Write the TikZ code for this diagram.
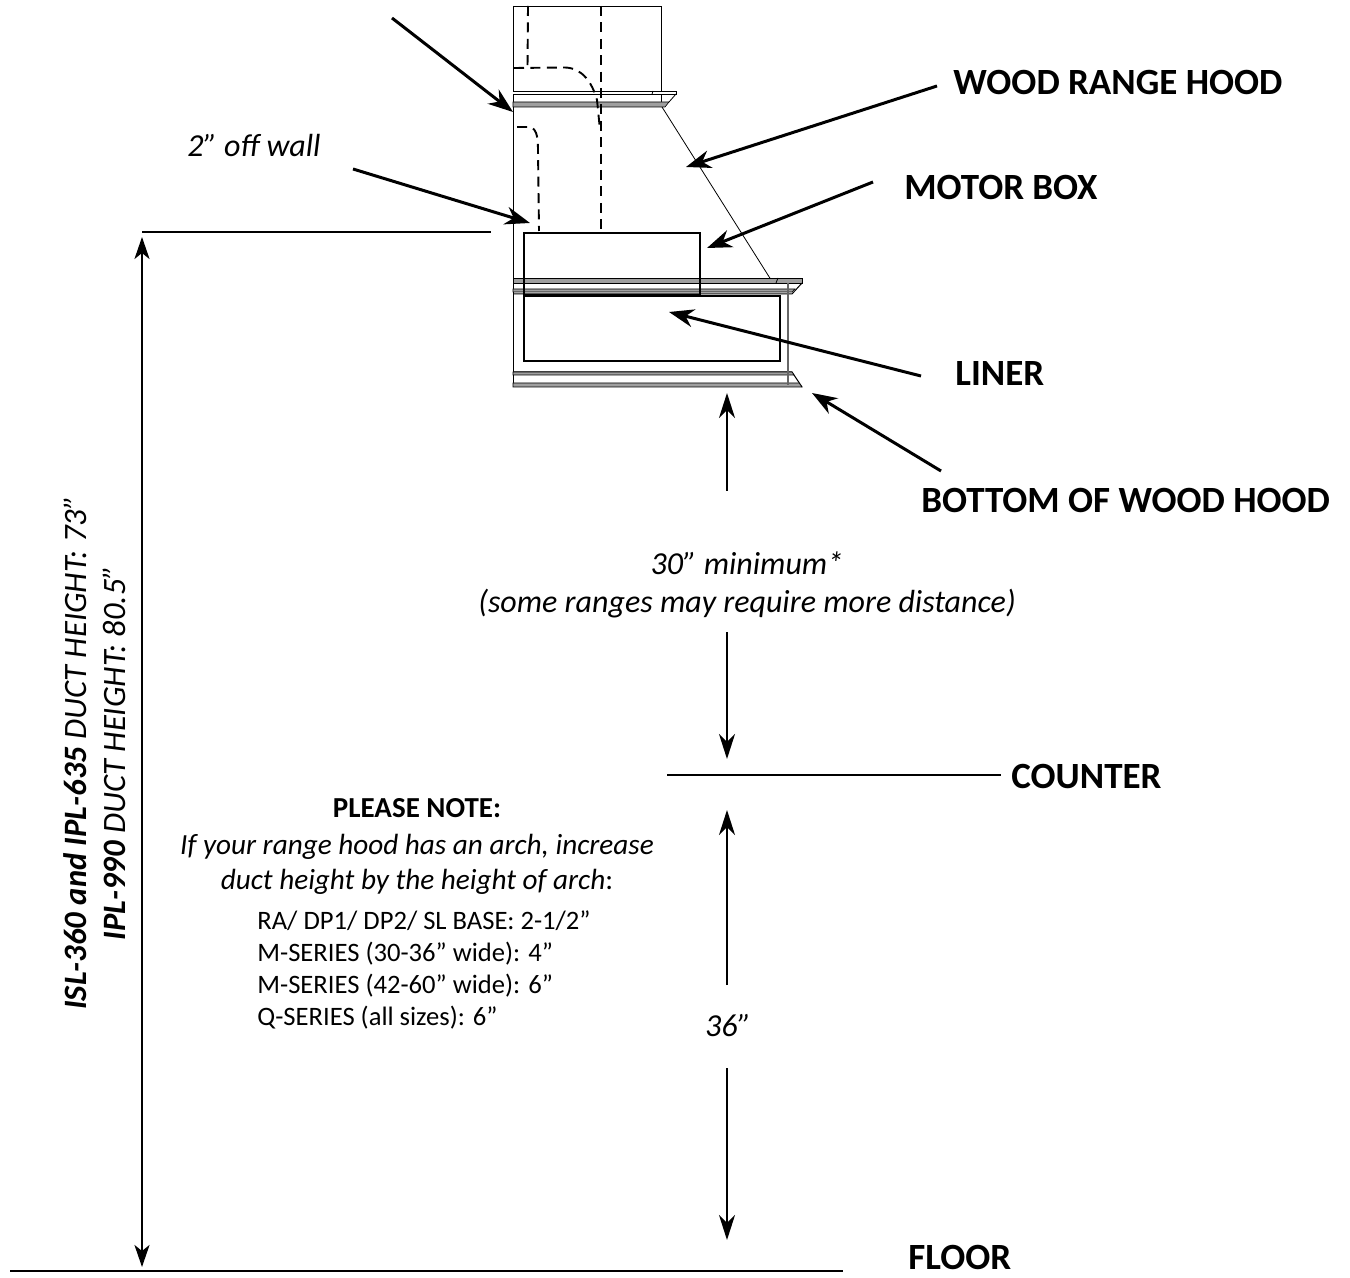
\documentclass[tikz,border=0pt]{standalone}
\usepackage{fontspec}
\setmainfont{Carlito}
\usetikzlibrary{arrows.meta}
\tikzset{
  x=0.5pt,y=-0.5pt,
  ptr/.style={line width=1.5pt,-{Stealth[length=12.5pt,width=9pt,inset=4pt]}},
  vdim/.style={line width=1.1pt,-{Stealth[length=12.5pt,width=8pt,inset=4pt]}},
  dbl/.style={line width=1.2pt,{Stealth[length=11pt,width=7.5pt,inset=3pt]}-{Stealth[length=11pt,width=7.5pt,inset=3pt]}},
  ref/.style={line width=0.85pt},
  thin box/.style={line width=0.45pt},
  heavy/.style={line width=0.95pt},
  hidden/.style={line width=0.95pt,dash pattern=on 5pt off 3.2pt},
  grayband/.style={fill=gray!75,draw=black,line width=0.3pt},
  graydraw/.style={draw=gray!80!black,line width=0.7pt},
  mainlabel/.style={font=\fontsize{18.5}{22}\selectfont\bfseries,inner sep=0pt},
  dim/.style={font=\fontsize{16}{19}\selectfont\itshape,inner sep=0pt,align=center},
}
\begin{document}
\begin{tikzpicture}
\useasboundingbox (0,0) rectangle (1350,1278);
% upper duct
\draw[thin box] (514,6) -- (661,6) -- (661,107);
\draw[thin box] (513,6) -- (513,387);
% upper moulding
\draw[line width=0.4pt,fill=white] (513,91) -- (676,91) -- (676,94) -- (513,94);
\draw[line width=0.4pt] (652,94) -- (653,91);
\draw[grayband] (513,102) -- (669,102) -- (665,107) -- (513,107) -- cycle;
\draw[line width=0.4pt] (676,94) -- (669,102);
\draw[line width=0.4pt] (513,94.5) -- (652,94.5);
% side of hood
\coordinate (sloTop) at (662,107);
\coordinate (sloBot) at (773,283);
\draw[line width=0.4pt] (sloTop) -- (sloBot);
% hidden ducts
\draw[hidden] (528,6) -- (527.5,68);
\draw[hidden] (514,68) -- (565,67.5) .. controls (582,68) and (592,82) .. (597,100) -- (600,130);
\draw[hidden] (601,6) -- (601,231);
\draw[hidden] (517,127) -- (528,127) .. controls (536,127) and (538,135) .. (538,150) -- (539,231);
% crown moulding
\draw[grayband] (513,278) -- (802,278) -- (802,283) -- (513,283) -- cycle;
\draw[line width=0.5pt] (802,283) -- (792,294) -- (513,294);
\draw[grayband] (513,289) -- (795,289) -- (792,292) -- (513,292) -- cycle;
\draw[line width=0.4pt] (776,283) -- (778,278);
% bottom moulding
\draw[line width=0.5pt] (513,372) -- (792,372) -- (802,387);
\draw[grayband] (513,372) -- (792,372) -- (794,375) -- (513,375) -- cycle;
\draw[grayband] (513,383) -- (799,383) -- (802,387) -- (513,387) -- cycle;
\draw[graydraw] (788,283) -- (788,385);
% motor box and liner
\node[draw,heavy,inner sep=0pt,minimum width=88pt,minimum height=31pt,anchor=north west] (motorbox) at (523,232) {};
\node[draw,heavy,inner sep=0pt,minimum width=128pt,minimum height=32.5pt,anchor=north west] (linerbox) at (523,295) {};
% reference lines
\coordinate (hA) at (142,232); \coordinate (hB) at (491,232);
\coordinate (cA) at (667,775); \coordinate (cB) at (1001,775);
\coordinate (fA) at (10,1271); \coordinate (fB) at (843,1271);
\draw[ref] (hA) -- (hB);
\draw[ref] (cA) -- (cB);
\draw[ref] (fA) -- (fB);
% labels
\node[mainlabel,anchor=west] (woodlab) at (953,82) {WOOD RANGE HOOD};
\node[mainlabel,anchor=west] (motorlab) at (904,187) {MOTOR BOX};
\node[mainlabel,anchor=west] (linerlab) at (955,374) {LINER};
\node[mainlabel,anchor=west] (bottomlab) at (921,500) {BOTTOM OF WOOD HOOD};
\node[mainlabel,anchor=west] (counterlab) at (1011,777) {COUNTER};
\node[mainlabel,anchor=base west] (floorlab) at (908,1269) {FLOOR};
\node[dim,anchor=west] (offwall) at (187,146) {2” off wall};
\node[dim] (minlab) at (747,585) {30” minimum*\\(some ranges may require more distance)};
\node[dim] (lab36) at (728,1026) {36”};
\node[dim,font=\fontsize{16.3}{19.5}\selectfont\itshape,rotate=90] (ductlab) at (95,753) {\textbf{ISL-360 and IPL-635} DUCT HEIGHT: 73”\\\textbf{IPL-990} DUCT HEIGHT: 80.5”};
\node[font=\fontsize{14.5}{17}\selectfont\bfseries,inner sep=0pt] (notehead) at (417,808) {PLEASE NOTE:};
\node[dim,font=\fontsize{14.6}{17.5}\selectfont\itshape] (notebody) at (417,864) {If your range hood has an arch, increase\\duct height by the height of arch\textup{:}};
\node[font=\fontsize{13.3}{16}\selectfont,inner sep=0pt,align=left,anchor=north west] (notelist) at (257,910) {RA/ DP1/ DP2/ SL BASE: 2-1/2”\\M-SERIES (30-36” wide): 4”\\M-SERIES (42-60” wide): 6”\\Q-SERIES (all sizes): 6”};
% pointers
\coordinate (p1a) at (392,18); \coordinate (p1b) at (513,112);
\coordinate (p2a) at (353,169); \coordinate (p2b) at (530,223);
\coordinate (p3a) at (937,86); \coordinate (p3b) at (686,167);
\coordinate (p4a) at (873,182); \coordinate (p4b) at (707,248);
\coordinate (p5a) at (921,376); \coordinate (p5b) at (669,312);
\coordinate (p6a) at (941,471); \coordinate (p6b) at (812,393);
\draw[ptr] (p1a) -- (p1b);
\draw[ptr] (p2a) -- (p2b);
\draw[ptr] (p3a) -- (p3b);
\draw[ptr] (p4a) -- (p4b);
\draw[ptr] (p5a) -- (p5b);
\draw[ptr] (p6a) -- (p6b);
% dimensions
\coordinate (d1a) at (727,491); \coordinate (d1b) at (727,393);
\coordinate (d2a) at (727,632); \coordinate (d2b) at (727,759);
\coordinate (d3a) at (727,985); \coordinate (d3b) at (727,810);
\coordinate (d4a) at (727,1068); \coordinate (d4b) at (727,1240);
\coordinate (d5a) at (142,237); \coordinate (d5b) at (142,1267);
\draw[vdim] (d1a) -- (d1b);
\draw[vdim] (d2a) -- (d2b);
\draw[vdim] (d3a) -- (d3b);
\draw[vdim] (d4a) -- (d4b);
\draw[dbl] (d5a) -- (d5b);
\end{tikzpicture}
\end{document}
